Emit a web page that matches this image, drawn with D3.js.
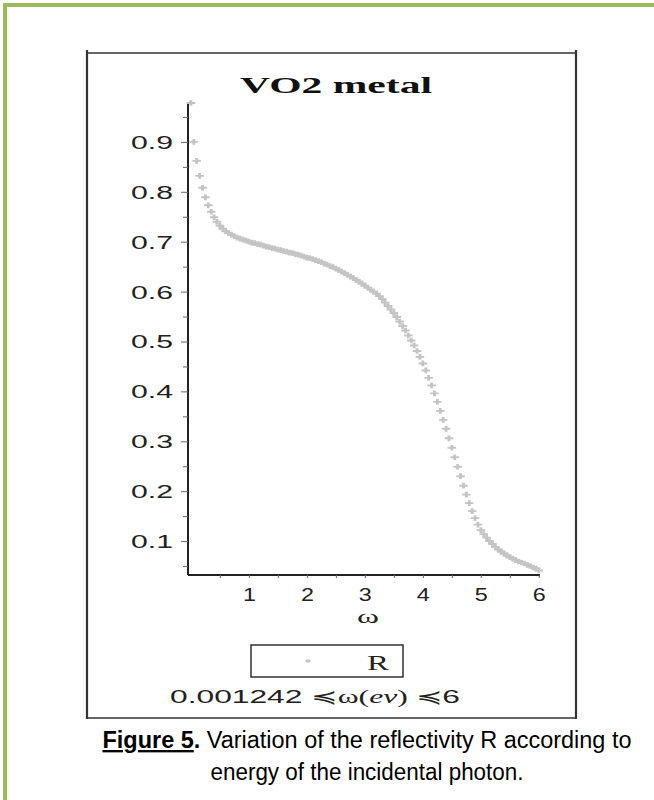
<!DOCTYPE html>
<html lang="en">
<head>
    <meta charset="UTF-8">
    <title>VO2 metal</title>
    <style>
        body { margin: 0; background: #fff; }
        .tick text { font-family: "Liberation Sans", sans-serif; fill: #222; }
    </style>
</head>
<body>
<script src="https://cdn.jsdelivr.net/npm/d3@7/dist/d3.min.js"></script>
<script>
    // energy of the photon (eV) and reflectivity
    var omega = [0.001242, 0.05, 0.10, 0.15, 0.20, 0.25, 0.30, 0.35, 0.40, 0.45, 0.50,
        0.55, 0.60, 0.65, 0.70, 0.75, 0.80, 0.85, 0.90, 0.95, 1.00,
        1.05, 1.10, 1.15, 1.20, 1.25, 1.30, 1.35, 1.40, 1.45, 1.50,
        1.55, 1.60, 1.65, 1.70, 1.75, 1.80, 1.85, 1.90, 1.95, 2.00,
        2.05, 2.10, 2.15, 2.20, 2.25, 2.30, 2.35, 2.40, 2.45, 2.50,
        2.55, 2.60, 2.65, 2.70, 2.75, 2.80, 2.85, 2.90, 2.95, 3.00,
        3.05, 3.10, 3.15, 3.20, 3.25, 3.30, 3.35, 3.40, 3.45, 3.50,
        3.55, 3.60, 3.65, 3.70, 3.75, 3.80, 3.85, 3.90, 3.95, 4.00,
        4.05, 4.10, 4.15, 4.20, 4.25, 4.30, 4.35, 4.40, 4.45, 4.50,
        4.55, 4.60, 4.65, 4.70, 4.75, 4.80, 4.85, 4.90, 4.95, 5.00,
        5.05, 5.10, 5.15, 5.20, 5.25, 5.30, 5.35, 5.40, 5.45, 5.50,
        5.55, 5.60, 5.65, 5.70, 5.75, 5.80, 5.85, 5.90, 5.95, 6.00];
    var reflect = [0.978, 0.900, 0.862, 0.832, 0.808, 0.789, 0.773, 0.760, 0.749, 0.740, 0.732,
        0.726, 0.721, 0.717, 0.714, 0.711, 0.708, 0.706, 0.704, 0.702, 0.700,
        0.698, 0.697, 0.695, 0.694, 0.692, 0.690, 0.689, 0.687, 0.686, 0.684,
        0.683, 0.681, 0.680, 0.678, 0.677, 0.675, 0.674, 0.672, 0.670, 0.668,
        0.667, 0.665, 0.663, 0.661, 0.659, 0.656, 0.654, 0.651, 0.649, 0.646,
        0.643, 0.640, 0.637, 0.634, 0.630, 0.627, 0.623, 0.620, 0.616, 0.612,
        0.608, 0.604, 0.600, 0.596, 0.591, 0.585, 0.578, 0.571, 0.564, 0.557,
        0.549, 0.540, 0.531, 0.522, 0.512, 0.502, 0.492, 0.481, 0.469, 0.456,
        0.442, 0.427, 0.412, 0.396, 0.379, 0.361, 0.343, 0.325, 0.306, 0.287,
        0.268, 0.249, 0.230, 0.211, 0.193, 0.176, 0.160, 0.146, 0.133, 0.122,
        0.114, 0.107, 0.100, 0.094, 0.088, 0.083, 0.079, 0.075, 0.071, 0.068,
        0.065, 0.062, 0.059, 0.057, 0.055, 0.052, 0.050, 0.047, 0.045, 0.041];

    var xTicks = [1, 2, 3, 4, 5, 6];
    var xMinor = [0.5, 1.5, 2.5, 3.5, 4.5, 5.5];
    var yTicks = [0.1, 0.2, 0.3, 0.4, 0.5, 0.6, 0.7, 0.8, 0.9];
    var yMinor = [0.05, 0.15, 0.25, 0.35, 0.45, 0.55, 0.65, 0.75, 0.85, 0.95];

    var width = 654, height = 800;
    var x0 = 188, x1 = 540, yTop = 103, yBot = 575;

    var svg = d3.select("body").append("svg")
        .attr("width", width)
        .attr("height", height);

    /* green page frame */
    svg.append("line")
        .attr("x1", 3).attr("y1", 5).attr("x2", width).attr("y2", 5)
        .attr("stroke", "#9bbb59").attr("stroke-width", 4);
    svg.append("line")
        .attr("x1", 5).attr("y1", 3).attr("x2", 5).attr("y2", height)
        .attr("stroke", "#9bbb59").attr("stroke-width", 4);

    /* picture box */
    var box = svg.append("g").attr("stroke", "#333").attr("fill", "none");
    box.append("line").attr("x1", 87).attr("y1", 53).attr("x2", 576).attr("y2", 53).attr("stroke-width", 1.5);
    box.append("line").attr("x1", 87).attr("y1", 718).attr("x2", 576).attr("y2", 718).attr("stroke-width", 1.5);
    box.append("line").attr("x1", 87).attr("y1", 50).attr("x2", 87).attr("y2", 719).attr("stroke-width", 2.2);
    box.append("line").attr("x1", 576).attr("y1", 50).attr("x2", 576).attr("y2", 719).attr("stroke-width", 2.2);

    /* title */
    svg.append("text")
        .attr("x", 240).attr("y", 93)
        .attr("font-family", "Liberation Serif")
        .attr("font-weight", "bold")
        .attr("font-size", "24px")
        .attr("textLength", 192)
        .attr("lengthAdjust", "spacingAndGlyphs")
        .attr("fill", "#111")
        .text("VO2 metal");

    var x = d3.scaleLinear().domain([-0.05, 6.02]).range([x0, x1]);
    var y = d3.scaleLinear().domain([0.032, 0.978]).range([yBot, yTop]);

    /* axes */
    var gy = svg.append("g").attr("transform", "translate(" + x0 + ",0)")
        .call(d3.axisLeft(y).tickValues(yTicks).tickSize(7).tickPadding(8)
            .tickFormat(d3.format(".1f")));
    var gyMinor = svg.append("g").attr("transform", "translate(" + x0 + ",0)")
        .call(d3.axisLeft(y).tickValues(yMinor).tickSize(5).tickFormat(""));
    var gx = svg.append("g").attr("transform", "translate(0," + yBot + ")")
        .call(d3.axisBottom(x).tickValues(xTicks).tickSize(3).tickPadding(10)
            .tickFormat(d3.format("d")));
    var gxMinor = svg.append("g").attr("transform", "translate(0," + yBot + ")")
        .call(d3.axisBottom(x).tickValues(xMinor).tickSize(3).tickFormat(""));

    [gyMinor, gxMinor].forEach(function (g) { g.select(".domain").remove(); });
    [gy, gyMinor, gx, gxMinor].forEach(function (g) {
        g.selectAll(".tick line").attr("stroke", "#666");
    });

    gy.select(".domain").attr("d", "M0," + yTop + "V" + yBot)
        .attr("stroke", "#222").attr("stroke-width", 2);
    gx.select(".domain").attr("d", "M" + x0 + ",0H" + x1)
        .attr("stroke", "#222").attr("stroke-width", 2);

    gy.selectAll(".tick text")
        .attr("font-size", "18px")
        .attr("dy", "0.36em")
        .attr("textLength", 42)
        .attr("lengthAdjust", "spacingAndGlyphs");
    gx.selectAll(".tick text")
        .attr("font-size", "18px")
        .attr("dy", "0.71em")
        .attr("textLength", 13)
        .attr("lengthAdjust", "spacingAndGlyphs");

    /* axis label */
    svg.append("text")
        .attr("x", 368).attr("y", 623)
        .attr("text-anchor", "middle")
        .attr("font-family", "Liberation Serif")
        .attr("font-size", "19px")
        .attr("textLength", 22)
        .attr("lengthAdjust", "spacingAndGlyphs")
        .attr("fill", "#222")
        .text("ω");

    /* points */
    var marker = d3.symbol().type(d3.symbolCross).size(18);
    svg.append("g").selectAll("path")
        .data(omega)
        .enter()
        .append("path")
        .attr("d", marker)
        .attr("transform", function (d, i) {
            return "translate(" + x(d) + "," + y(reflect[i]) + ") scale(1.5,1)";
        })
        .attr("fill", "#c4c4c4");

    /* legend */
    svg.append("rect")
        .attr("x", 251).attr("y", 645).attr("width", 152).attr("height", 32)
        .attr("fill", "none").attr("stroke", "#333").attr("stroke-width", 1.5);
    svg.append("path")
        .attr("d", d3.symbol().type(d3.symbolCircle).size(10))
        .attr("transform", "translate(308,661) scale(1.5,1)")
        .attr("fill", "#c4c4c4");
    svg.append("text")
        .attr("x", 367).attr("y", 670)
        .attr("font-family", "Liberation Serif")
        .attr("font-size", "21px")
        .attr("textLength", 22)
        .attr("lengthAdjust", "spacingAndGlyphs")
        .attr("fill", "#222")
        .text("R");

    var range = svg.append("text")
        .attr("x", 170).attr("y", 703)
        .attr("font-family", "Liberation Sans")
        .attr("font-size", "18px")
        .attr("textLength", 290)
        .attr("lengthAdjust", "spacingAndGlyphs")
        .attr("fill", "#222");
    range.append("tspan").text("0.001242 ≼");
    range.append("tspan").attr("font-family", "Liberation Serif").text("ω(");
    range.append("tspan").attr("font-family", "Liberation Serif").attr("font-style", "italic").text("ev");
    range.append("tspan").attr("font-family", "Liberation Serif").text(") ");
    range.append("tspan").text("≼6");

    /* caption */
    var cap = svg.append("text")
        .attr("x", 367).attr("y", 748)
        .attr("text-anchor", "middle")
        .attr("font-family", "Liberation Sans")
        .attr("font-size", "23.5px")
        .attr("textLength", 529)
        .attr("lengthAdjust", "spacingAndGlyphs")
        .attr("fill", "#000");
    cap.append("tspan").attr("font-weight", "bold").attr("text-decoration", "underline").text("Figure 5");
    cap.append("tspan").attr("font-weight", "bold").text(".");
    cap.append("tspan").text(" Variation of the reflectivity R according to");

    svg.append("text")
        .attr("x", 367).attr("y", 780)
        .attr("text-anchor", "middle")
        .attr("font-family", "Liberation Sans")
        .attr("font-size", "23.5px")
        .attr("textLength", 313)
        .attr("lengthAdjust", "spacingAndGlyphs")
        .attr("fill", "#000")
        .text("energy of the incidental photon.");
</script>
</body>
</html>
